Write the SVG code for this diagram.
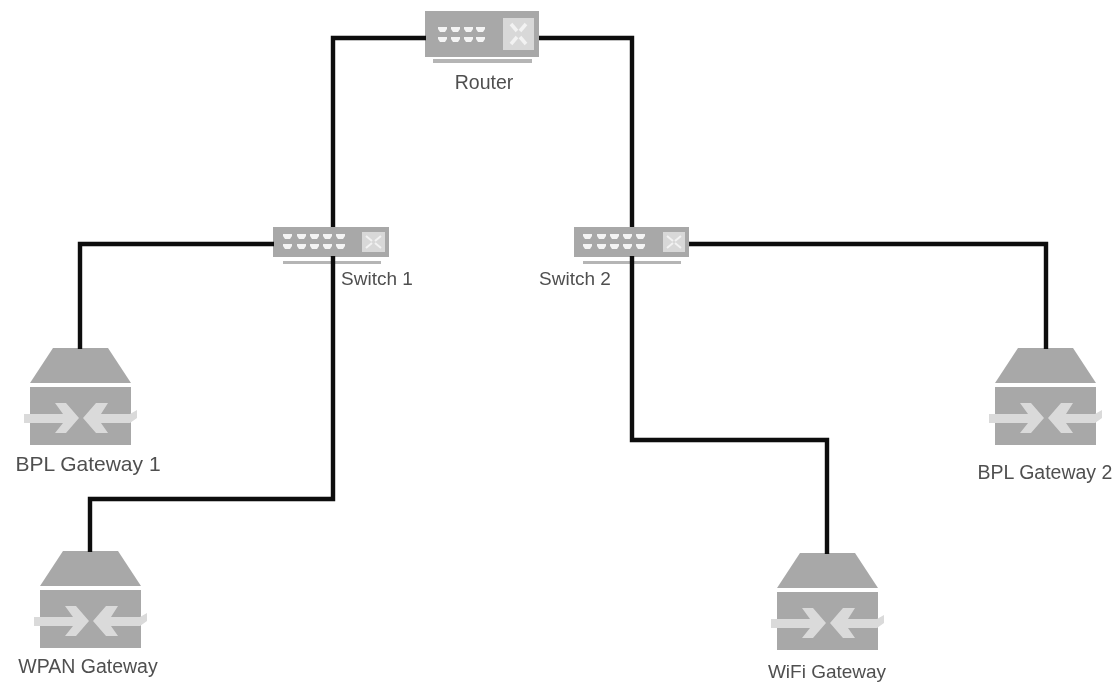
<svg xmlns="http://www.w3.org/2000/svg" width="1117" height="682" viewBox="0 0 1117 682">
<style>
.wire{fill:none;stroke:#0a0a0a;stroke-width:4.4}
.b{fill:#a8a8a8}
.l{fill:#dadada}
.p{fill:#f4f4f4}
.x{fill:none;stroke:#f2f2f2}
text{font-family:"Liberation Sans",Arial,sans-serif;font-size:19.5px;fill:#505050;text-anchor:middle}
</style>
<defs>
<filter id="soft" x="0" y="0" width="100%" height="100%"><feGaussianBlur stdDeviation="0.5"/></filter>
<g id="gw">
<path class="b" d="M23 0H78L101 35H0Z"/>
<rect class="b" y="39" width="101" height="58"/>
<path class="l" d="M-6 66H33L25 55H36L49 70L36 85H25L33 75H-6Z"/>
<path class="l" d="M53 70L66 55H78L71 66H100L107 62V70L100 75H71L78 85H66Z"/>
</g>
<path id="rp" class="p" d="M0 0H9V2L7 5H2L0 2Z"/>
</defs>
<rect width="1117" height="682" fill="#fff"/>
<g filter="url(#soft)">
<g id="router">
<rect class="b" x="425" y="11" width="114" height="46"/>
<rect x="433" y="59" width="99" height="4" fill="#b5b5b5"/>
<rect x="503" y="18" width="31" height="32" fill="#d8d8d8"/>
<path class="x" stroke-width="3.5" d="M511 24L517 31M526 24L520 31M511 44L517 37M526 44L520 37"/>
<use href="#rp" x="438" y="27"/><use href="#rp" x="451" y="27"/><use href="#rp" x="464" y="27"/><use href="#rp" x="476" y="27"/>
<use href="#rp" x="438" y="37"/><use href="#rp" x="451" y="37"/><use href="#rp" x="464" y="37"/><use href="#rp" x="476" y="37"/>
<text x="484" y="89">Router</text>
</g>
<g id="switch1">
<rect class="b" x="273" y="227" width="116" height="30"/>
<rect x="283" y="261" width="98" height="3" fill="#b5b5b5"/>
<rect x="362" y="232" width="23" height="20" fill="#d8d8d8"/>
<path class="x" stroke-width="2" d="M366 236L372 241M381 236L375 241M366 248L372 243M381 248L375 243"/>
<use href="#rp" x="283" y="234"/><use href="#rp" x="297" y="234"/><use href="#rp" x="310" y="234"/><use href="#rp" x="323" y="234"/><use href="#rp" x="336" y="234"/>
<use href="#rp" x="283" y="244"/><use href="#rp" x="297" y="244"/><use href="#rp" x="310" y="244"/><use href="#rp" x="323" y="244"/><use href="#rp" x="336" y="244"/>
<text x="377" y="285" style="font-size:19px">Switch 1</text>
</g>
<g id="switch2">
<rect class="b" x="574" y="227" width="115" height="30"/>
<rect x="583" y="261" width="98" height="3" fill="#b5b5b5"/>
<rect x="663" y="232" width="22" height="20" fill="#d8d8d8"/>
<path class="x" stroke-width="2" d="M667 236L673 241M681 236L675 241M667 248L673 243M681 248L675 243"/>
<use href="#rp" x="583" y="234"/><use href="#rp" x="597" y="234"/><use href="#rp" x="610" y="234"/><use href="#rp" x="623" y="234"/><use href="#rp" x="636" y="234"/>
<use href="#rp" x="583" y="244"/><use href="#rp" x="597" y="244"/><use href="#rp" x="610" y="244"/><use href="#rp" x="623" y="244"/><use href="#rp" x="636" y="244"/>
<text x="575" y="285" style="font-size:19px">Switch 2</text>
</g>
<g id="bpl1"><use href="#gw" x="30" y="348"/><text x="88" y="471" style="font-size:21px">BPL Gateway 1</text></g>
<g id="wpan"><use href="#gw" x="40" y="551"/><text x="88" y="673">WPAN Gateway</text></g>
<g id="bpl2"><use href="#gw" x="995" y="348"/><text x="1045" y="479">BPL Gateway 2</text></g>
<g id="wifi"><use href="#gw" x="777" y="553"/><text x="827" y="678" style="font-size:19px">WiFi Gateway</text></g>
<g id="connectors">
<path class="wire" d="M426 38H333V227M333 256V499H90V552"/>
<path class="wire" d="M539 38H632V227M632 256V440H827V554"/>
<path class="wire" d="M274 244H80V349"/>
<path class="wire" d="M689 244H1046V349"/>
</g>
</g>
</svg>
